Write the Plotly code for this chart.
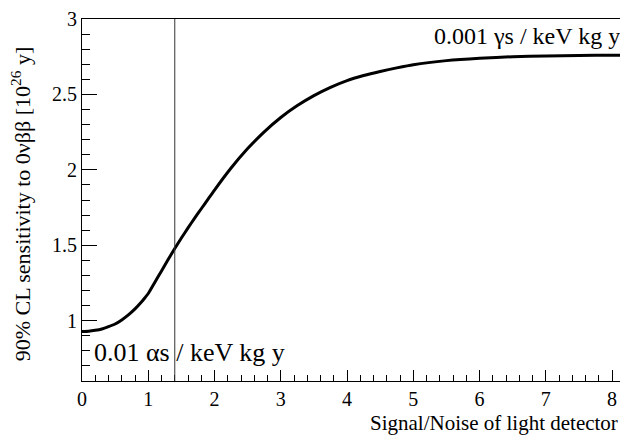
import plotly.graph_objects as go

# Data
snr = [0.0, 0.1, 0.2, 0.3, 0.4, 0.5, 0.6, 0.7, 0.8, 0.9, 0.95, 1.0, 1.1, 1.2, 1.3, 1.4,
       1.5, 1.6, 1.7, 1.8, 1.9, 2.0, 2.25, 2.5, 2.75, 3.0, 3.25, 3.5, 3.75, 4.0, 4.25,
       4.5, 4.75, 5.0, 5.5, 6.0, 6.5, 7.0, 7.5, 8.0, 8.25]
sensitivity = [0.928, 0.930, 0.936, 0.945, 0.960, 0.978, 1.005, 1.038, 1.078, 1.125, 1.152,
               1.18, 1.255, 1.33, 1.405, 1.478, 1.548, 1.615, 1.68, 1.742, 1.804, 1.866,
               2.012, 2.141, 2.252, 2.347, 2.426, 2.492, 2.547, 2.592, 2.625, 2.652, 2.676,
               2.697, 2.724, 2.74, 2.75, 2.755, 2.758, 2.76, 2.761]
vline_x = 1.4
x_range = [0, 8.24]
y_range = [0.6, 3.0]
x_ticks = [0, 1, 2, 3, 4, 5, 6, 7, 8]
y_ticks = [1, 1.5, 2, 2.5, 3]
y_ticklabels = ["1", "1.5", "2", "2.5", "3"]
label_gamma = "0.001 γs / keV kg y"
label_alpha = "0.01 αs / keV kg y"
x_title = "Signal/Noise of light detector"
y_title = "90% CL sensitivity to 0νββ [10<sup>26</sup> y]"

FONT = "Liberation Serif, Times New Roman, serif"

fig = go.Figure()
fig.add_trace(go.Scatter(x=snr, y=sensitivity, mode="lines",
                         line=dict(color="black", width=3, shape="spline", smoothing=0.5),
                         hoverinfo="skip", showlegend=False))

fig.add_vline(x=vline_x, line=dict(color="#333333", width=1))

fig.add_annotation(x=5.28, y=2.89, xref="x", yref="y", text=label_gamma, showarrow=False,
                   xanchor="left", yanchor="middle", font=dict(family=FONT, size=24, color="black"))
fig.add_annotation(x=0.15, y=0.79, xref="x", yref="y", text=label_alpha, showarrow=False,
                   xanchor="left", yanchor="middle", font=dict(family=FONT, size=26, color="black"))

fig.add_annotation(x=(620 - 82) / 546, y=-0.115, xref="paper", yref="paper", text=x_title,
                   showarrow=False, xanchor="right", yanchor="middle",
                   font=dict(family=FONT, size=21, color="black"))
fig.add_annotation(x=(21 - 82) / 546, y=0.488, xref="paper", yref="paper", text=y_title,
                   showarrow=False, textangle=-90, xanchor="center", yanchor="middle",
                   font=dict(family=FONT, size=22, color="black"))

# page has an 8px body margin, so the figure is 8px smaller and starts at (8, 8)
fig.update_layout(
    width=620, height=428,
    margin=dict(l=74, r=0, t=8, b=55),
    paper_bgcolor="white", plot_bgcolor="white",
    font=dict(family=FONT, size=20, color="black"),
    xaxis=dict(range=x_range, tickvals=x_ticks, ticks="inside", ticklen=11, tickwidth=1,
               tickcolor="black", showline=True, linecolor="black", linewidth=1, mirror=True,
               showgrid=False, zeroline=False, ticklabeloverflow="allow",
               minor=dict(ticks="inside", ticklen=6, dtick=0.2, tickcolor="black", showgrid=False),
               tickfont=dict(family=FONT, size=20)),
    yaxis=dict(range=y_range, tickvals=y_ticks, ticktext=y_ticklabels, ticks="inside", ticklen=15,
               tickwidth=1, tickcolor="black", showline=True, linecolor="black", linewidth=1,
               showgrid=False, zeroline=False, ticklabeloverflow="allow",
               minor=dict(ticks="inside", ticklen=8, dtick=0.1, tick0=0, tickcolor="black", showgrid=False),
               tickfont=dict(family=FONT, size=20)),
)

fig.write_html("out.html")
